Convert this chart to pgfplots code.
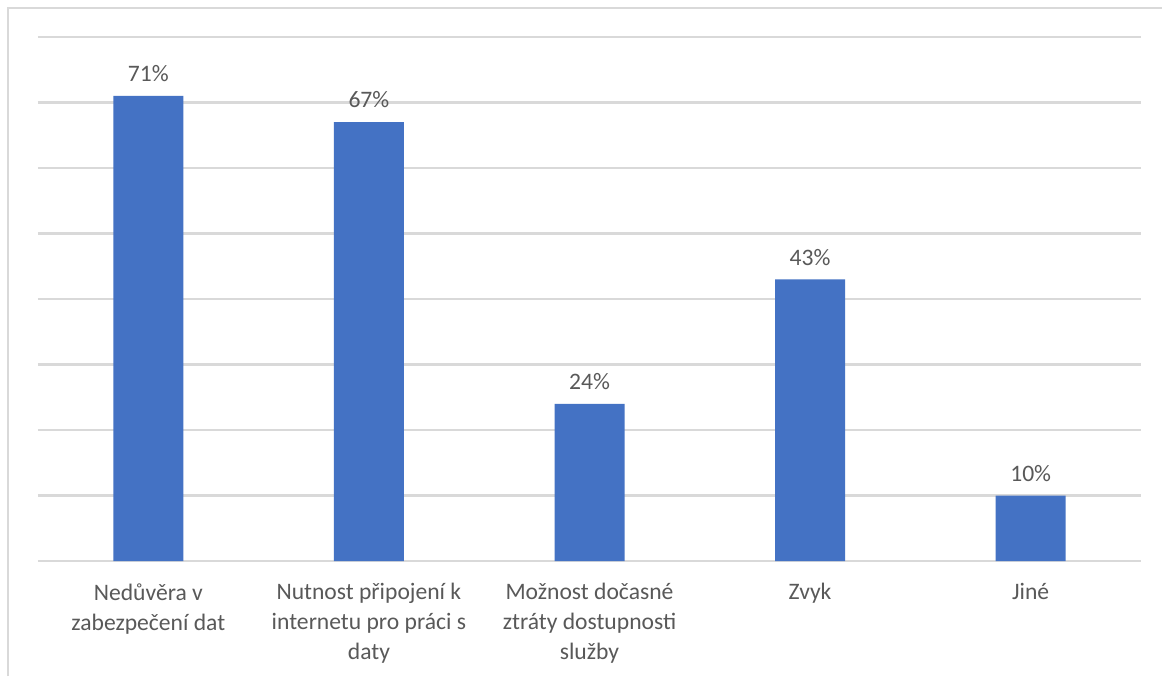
\documentclass[border=0pt]{standalone}
\usepackage{pgfplots}
\pgfplotsset{compat=1.18}
\usepackage{fontspec}
\setmainfont{Carlito}
\definecolor{barblue}{HTML}{4472C4}
\definecolor{gridgray}{HTML}{D9D9D9}
\definecolor{labelgray}{HTML}{595959}
\begin{document}
\begin{tikzpicture}
\useasboundingbox (0,0) rectangle (581pt,338pt);
\fill[white] (0,0) rectangle (581pt,338pt);
% chart frame (top and left edges)
\draw[gridgray, line width=1pt] (4pt,0) -- (4pt,334pt) -- (581pt,334pt);
\begin{axis}[
  at={(19pt,57.5pt)}, anchor=south west,
  scale only axis, width=551.5pt, height=262pt,
  xmin=-0.5, xmax=4.5, ymin=0, ymax=80,
  axis line style={draw=none},
  tick style={draw=none},
  /pgf/number format/assume math mode=true,
  ymajorgrids, ytick={0,10,...,80}, yticklabels={},
  major grid style={gridgray, line width=1.1pt},
  xtick={0,1,2,3,4},
  xticklabels={{Nedůvěra v\\zabezpečení dat},
               {Nutnost připojení k\\internetu pro práci s\\daty},
               {Možnost dočasné\\ztráty dostupnosti\\služby},
               {Zvyk},{Jiné}},
  xticklabel style={align=center, text=labelgray, font=\fontsize{11.8}{15}\selectfont, yshift=-3.5pt},
  ybar, bar width=35pt,
  nodes near coords={\pgfmathprintnumber{\pgfplotspointmeta}\%},
  every node near coord/.append style={text=labelgray, font=\fontsize{11.8}{15}\selectfont, yshift=3.5pt},
  clip=false,
]
\addplot[fill=barblue, draw=none] coordinates {(0,71) (1,67) (2,24) (3,43) (4,10)};
\end{axis}
\end{tikzpicture}
\end{document}
